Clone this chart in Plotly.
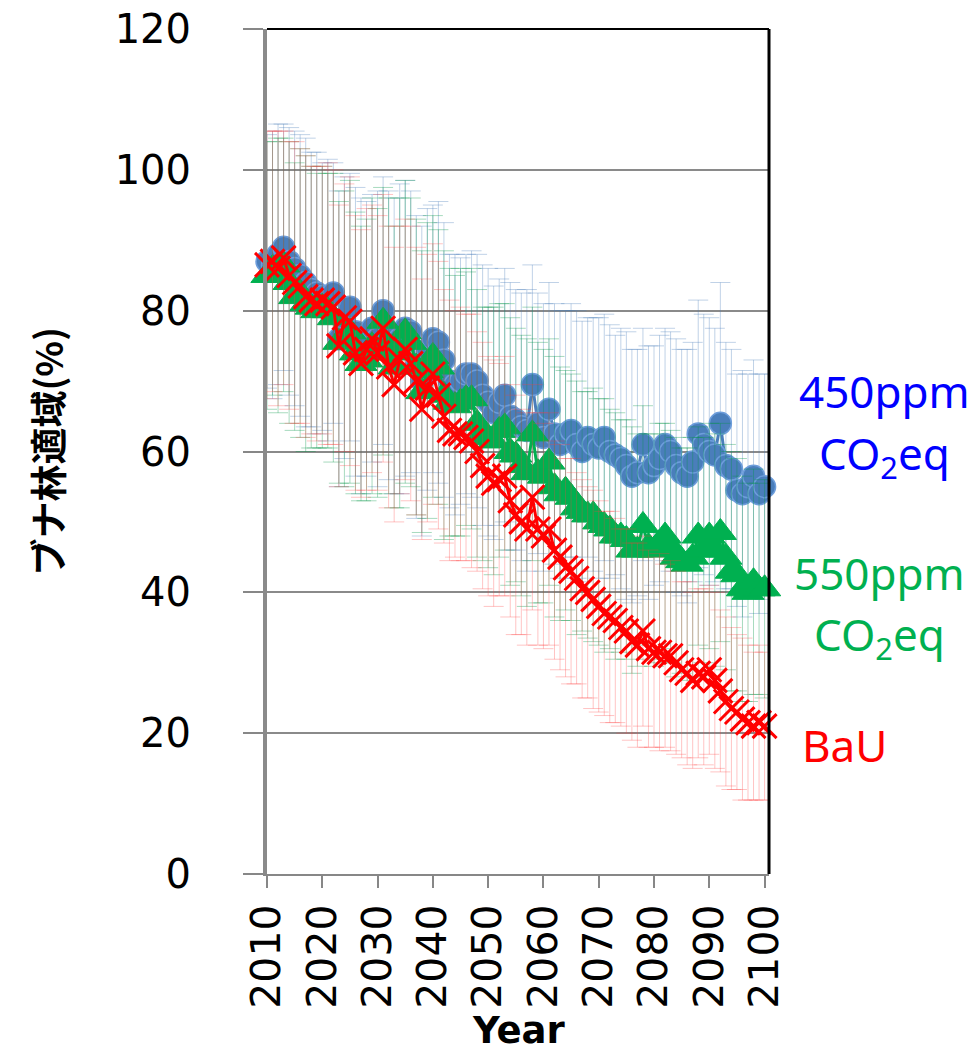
import plotly.graph_objects as go

years = list(range(2010, 2101))

ppm450 = [87, 86.5, 88, 89, 87, 86, 85, 84, 83, 82.5,
          82, 81.5, 82.5, 76, 79, 80.5, 77, 75, 76, 77.5,
          76, 80, 76.5, 75, 76, 77.5, 77, 72, 70, 74.5,
          76, 75.5, 73, 70, 69.5, 70, 71, 71, 70, 68,
          67, 65.5, 67, 68, 65, 64.5, 63.5, 63, 69.5, 64,
          62, 66, 62.5, 61, 62.5, 63, 61, 60, 62, 61,
          60.5, 62, 60, 59.5, 59, 58, 56.5, 57, 61, 57,
          58, 59, 61, 60, 58, 57, 56.5, 58.5, 62.5, 61,
          60, 59.5, 64, 58, 57.5, 54.5, 54, 55, 56.5, 54, 55]

ppm550 = [85, 86, 85, 86.5, 84, 82, 82.5, 81, 80.5, 80,
          80.5, 80, 79, 75.5, 76, 77, 74, 72.5, 73, 75,
          74, 78.5, 75, 72, 74, 77, 75.5, 72, 68.5, 71.5,
          73.5, 72, 68, 67, 66.5, 67, 67.5, 67.5, 64, 62.5,
          62, 61.5, 63, 63.5, 60, 59.5, 58, 57, 62.5, 57,
          56.5, 58.5, 55, 54, 54.5, 53.5, 52, 51.5, 51, 51,
          50, 49.5, 49, 48, 48, 47.5, 46, 46, 49.5, 46.5,
          46, 47, 48, 46.5, 45, 44.5, 44, 45, 48, 46,
          48, 46, 48.5, 45, 43, 42.5, 40.5, 40, 41.5, 40.5, 40.5]

bau = [86.5, 87, 86, 87.5, 85, 84, 83.5, 82, 81.5, 81,
       81.5, 81, 80.5, 75, 79, 78.5, 74, 72.5, 74.5, 76,
       74, 77.5, 72, 69.5, 73, 74.5, 72.5, 70, 66, 69,
       71, 68, 65, 63, 62.5, 62.5, 62, 61.5, 60, 58,
       56.5, 55.5, 56, 56.5, 53, 51, 50, 49, 53.5, 49,
       48, 49, 46, 45, 43.5, 43, 42, 40.5, 40, 39,
       38, 37, 36.5, 36, 35, 34.5, 33, 32.5, 34.5, 32,
       31.5, 31.5, 31, 31, 30, 29, 28.5, 27.5, 28.5, 28,
       29, 27.5, 26, 24.5, 23.5, 23, 22, 21.5, 21, 21.5, 21]

err450 = [18, 19, 18.5, 17.5, 19, 19.5, 20, 20.5, 19.5, 20,
          19, 20, 18.5, 21, 20, 19, 20.5, 21, 19.5, 19,
          21, 19, 20.5, 21, 22, 21, 20, 21.5, 22, 20,
          19, 20, 19.5, 18, 18.5, 17.5, 17, 17.5, 18, 18.5,
          19, 18, 17.5, 18, 19, 18.5, 19, 20, 17, 18.5,
          19, 18, 18.5, 19, 17.5, 18, 19, 18.5, 17, 18,
          18.5, 17.5, 18, 17, 18.5, 19, 18, 17.5, 16.5, 18,
          17, 17.5, 16.5, 17, 18, 17.5, 18, 17, 19, 18.5,
          19, 18, 20, 17.5, 17, 16.5, 17.5, 16, 16.5, 17, 16]

err550 = [19, 18, 19.5, 18, 20, 19, 20.5, 21, 20, 19.5,
          20, 19.5, 20.5, 20, 21, 21.5, 20, 19.5, 20, 21,
          20.5, 19, 21, 20, 22, 21.5, 20.5, 21, 20, 21,
          20, 19.5, 20.5, 19, 18.5, 19, 18, 18.5, 19, 18,
          18.5, 19, 18, 17.5, 19, 18, 18.5, 19, 18, 18.5,
          18, 17.5, 18.5, 18, 17, 17.5, 18, 17, 17.5, 18,
          17.5, 18, 17, 17.5, 16.5, 17, 17.5, 16.5, 17, 16,
          16.5, 17, 16, 16.5, 17, 16, 16.5, 17, 15.5, 16,
          16, 16.5, 15.5, 16, 17, 16.5, 16, 15.5, 16, 15, 15.5]

errbau = [19, 18.5, 19.5, 18, 19, 20, 19.5, 20, 19, 19.5,
          19, 20, 19.5, 20, 19, 20.5, 19.5, 19, 20, 19,
          19.5, 19, 20, 19.5, 19, 18.5, 19.5, 19, 18.5, 19,
          18.5, 19, 18, 18.5, 17.5, 18, 17.5, 18, 17, 17.5,
          17, 17.5, 16.5, 17, 16.5, 17, 16, 16.5, 16, 16.5,
          16, 16.5, 15.5, 16, 15.5, 16, 15, 15.5, 15, 15.5,
          15, 14.5, 15, 14.5, 14, 14.5, 14, 14.5, 13.5, 14,
          13.5, 14, 13, 13.5, 13, 12.5, 13, 12.5, 12, 12.5,
          12, 12.5, 11.5, 12, 11.5, 11, 11.5, 11, 10.5, 11, 10.5]

xticks = list(range(2010, 2101, 10))
yticks = list(range(0, 121, 20))

fig = go.Figure()

fig.add_trace(go.Scatter(
    x=years, y=ppm450, mode="lines+markers", name="450ppm",
    line=dict(color="#4a7ebb", width=3),
    marker=dict(symbol="circle", size=22, color="#4a7ebb",
                line=dict(color="#6d9ddb", width=1.5)),
    error_y=dict(type="data", array=err450, visible=True,
                 color="rgba(74,126,187,0.35)", thickness=1, width=10),
    cliponaxis=False))

fig.add_trace(go.Scatter(
    x=years, y=ppm550, mode="lines+markers", name="550ppm",
    line=dict(color="#00b050", width=3),
    marker=dict(symbol="triangle-up", size=28, color="#00b050",
                line=dict(color="#00b050", width=1)),
    error_y=dict(type="data", array=err550, visible=True,
                 color="rgba(0,150,70,0.35)", thickness=1, width=10),
    cliponaxis=False))

fig.add_trace(go.Scatter(
    x=years, y=bau, mode="lines+markers", name="BaU",
    line=dict(color="#ff0000", width=3),
    marker=dict(symbol="x-thin-open", size=24, color="#ff0000",
                line=dict(color="#ff0000", width=3)),
    error_y=dict(type="data", array=errbau, visible=True,
                 color="rgba(255,60,60,0.3)", thickness=1, width=10),
    cliponaxis=False))

fig.update_layout(
    width=973, height=1054,
    margin=dict(l=267, r=204, t=29, b=180, autoexpand=False),
    paper_bgcolor="white", plot_bgcolor="white",
    showlegend=False,
    font=dict(family="DejaVu Sans", color="black"),
    xaxis=dict(range=[2010, 2100.8], tickvals=xticks, ticktext=[str(v) for v in xticks],
               tickangle=-90, ticks="outside", ticklen=12, tickwidth=2, tickcolor="#878787",
               showline=True, linecolor="#878787", linewidth=2,
               showgrid=False, zeroline=False, automargin=False,
               tickfont=dict(family="DejaVu Sans", size=41, color="black")),
    yaxis=dict(range=[0, 120], tickvals=yticks, ticks="outside", ticklen=20, tickwidth=1.5,
               tickcolor="#878787", showgrid=True, gridcolor="#8a8a8a", gridwidth=1.5,
               showline=True, linecolor="#8a8a8a", linewidth=4, zeroline=False,
               ticklabelstandoff=44, automargin=False,
               tickfont=dict(family="DejaVu Sans", size=40, color="black")),
    shapes=[
        dict(type="line", xref="paper", yref="paper", x0=0, x1=1, y0=1, y1=1,
             line=dict(color="black", width=2)),
        dict(type="line", xref="paper", yref="paper", x0=1, x1=1, y0=0, y1=1,
             line=dict(color="black", width=3)),
    ],
)

annots = [
    dict(text="ブナ林適域(%)", x=-0.44, y=0.5, textangle=-90, yanchor="middle",
         font=dict(family="Noto Sans CJK JP", size=37, color="black"), bold=True),
    dict(text="<b>Year</b>", x=0.5, y=-0.2125, yanchor="bottom",
         font=dict(family="DejaVu Sans", size=37, color="black")),
    dict(text="450ppm", x=1.23, y=(874 - 391) / 845, yanchor="middle",
         font=dict(family="Noto Sans", size=44, color="#0000ff")),
    dict(text="CO<sub>2</sub>eq", x=1.23, y=(874 - 455) / 845, yanchor="middle",
         font=dict(family="Noto Sans", size=44, color="#0000ff")),
    dict(text="550ppm", x=1.22, y=(874 - 573) / 845, yanchor="middle",
         font=dict(family="Noto Sans", size=44, color="#00b050")),
    dict(text="CO<sub>2</sub>eq", x=1.22, y=(874 - 636) / 845, yanchor="middle",
         font=dict(family="Noto Sans", size=44, color="#00b050")),
    dict(text="BaU", x=1.15, y=(874 - 745) / 845, yanchor="middle",
         font=dict(family="Noto Sans", size=44, color="#ff0000")),
]
for a in annots:
    bold = a.pop("bold", False)
    if bold:
        a["text"] = "<b>" + a["text"] + "</b>"
    fig.add_annotation(xref="paper", yref="paper", showarrow=False,
                       xanchor="center", **a)

fig.write_html("out.html")
